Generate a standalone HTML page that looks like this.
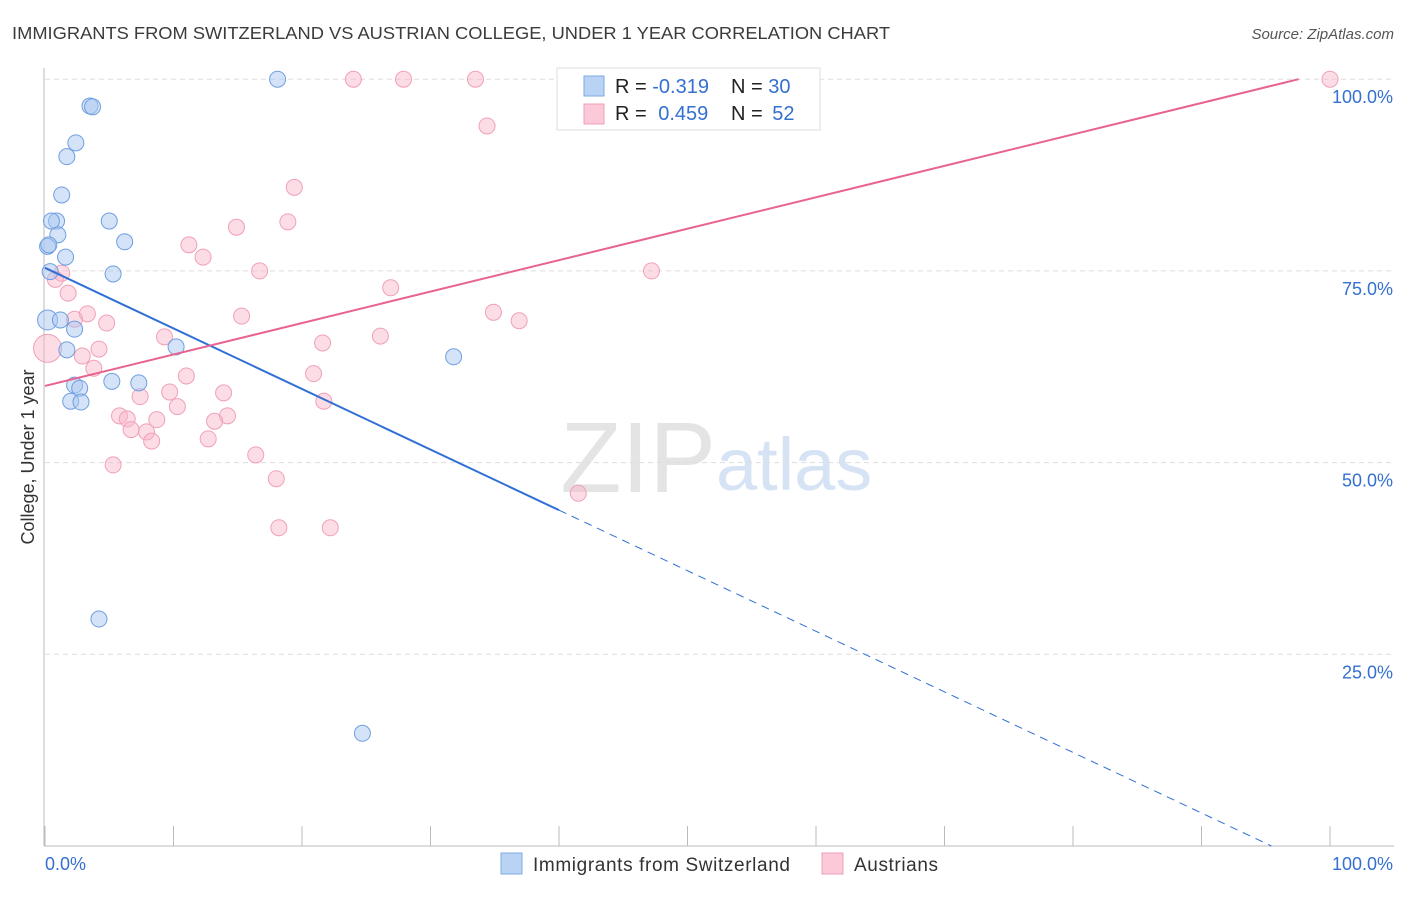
<!DOCTYPE html>
<html><head><meta charset="utf-8"><style>
body{margin:0;background:#fff;font-family:"Liberation Sans",sans-serif;}
svg text{font-family:"Liberation Sans",sans-serif;}
</style></head><body>
<svg id="chart" width="1406" height="892">
<text x="12" y="39" font-size="17.5" fill="#3b3b3b" textLength="878" lengthAdjust="spacingAndGlyphs">IMMIGRANTS FROM SWITZERLAND VS AUSTRIAN COLLEGE, UNDER 1 YEAR CORRELATION CHART</text>
<text x="1394" y="39" font-size="15" fill="#555" text-anchor="end" font-style="italic">Source: ZipAtlas.com</text>
<text x="716" y="492" font-size="100" fill="#e4e4e4" text-anchor="end" font-family="Liberation Serif">ZIP</text>
<text x="716" y="490" font-size="74" fill="#d6e3f5">atlas</text>
<g id="grid"></g><g id="axes"></g><g id="pts"></g><g id="lines"></g>
<text transform="translate(34,457) rotate(-90)" font-size="18" fill="#333" text-anchor="middle">College, Under 1 year</text>
<g>
<rect x="557" y="68" width="263" height="62" fill="#fff" stroke="#ddd"/>
<rect x="584" y="76" width="20" height="20" fill="#b9d3f5" stroke="#7fa9e3"/>
<rect x="584" y="104" width="20" height="20" fill="#fcc9d8" stroke="#f0a0b8"/>
<text x="615" y="93" font-size="20" fill="#222">R = <tspan fill="#3470d0">-0.319</tspan></text>
<text x="731" y="93" font-size="20" fill="#222">N = <tspan fill="#3470d0">30</tspan></text>
<text x="615" y="120" font-size="20" fill="#222">R = <tspan fill="#3470d0" dx="6">0.459</tspan></text>
<text x="731" y="120" font-size="20" fill="#222">N = <tspan fill="#3470d0" dx="4">52</tspan></text>
</g>
<g>
<rect x="501" y="853" width="21" height="21" fill="#b9d3f5" stroke="#7fa9e3"/>
<text x="533" y="871" font-size="19" fill="#333" textLength="257">Immigrants from Switzerland</text>
<rect x="822" y="853" width="21" height="21" fill="#fcc9d8" stroke="#f0a0b8"/>
<text x="854" y="871" font-size="19" fill="#333" textLength="84">Austrians</text>
</g>
</svg>
<script>
const blueX=[0.2,0.9,0.5,1.3,1.7,2.4,3.5,3.7,18.1,5.0,6.2,1.0,0.2,1.6,5.3,0.4,1.2,2.3,1.7,10.2,5.2,7.3,2.3,2.7,2.0,2.8,31.8,4.2,24.7,0.3];
const blueY=[68.6,81.5,81.5,84.9,89.9,91.7,96.5,96.4,100,81.5,78.8,79.7,78.2,76.8,74.6,74.9,68.6,67.4,64.7,65.1,60.6,60.4,60.1,59.7,58.0,57.9,63.8,29.6,14.7,78.4];
const pinkX=[24.0,27.9,33.5,100,34.4,52.4,19.4,18.9,14.9,11.2,12.3,16.7,47.2,1.3,0.8,1.8,26.9,34.9,36.9,15.3,3.3,2.3,4.8,9.3,26.1,21.6,0.2,4.2,2.9,3.8,20.9,11.0,9.7,13.9,7.4,21.7,10.3,5.8,6.4,14.2,13.2,8.7,6.7,7.9,8.3,12.7,16.4,5.3,18.0,41.5,18.2,22.2];
const pinkY=[100,100,100,100,93.9,96.4,85.9,81.4,80.7,78.4,76.8,75.0,75.0,74.7,73.9,72.1,72.8,69.6,68.5,69.1,69.4,68.7,68.2,66.4,66.5,65.6,64.9,64.8,63.9,62.3,61.6,61.3,59.2,59.1,58.6,58.0,57.3,56.1,55.7,56.1,55.4,55.6,54.3,54.0,52.8,53.1,51.0,49.7,47.9,46.0,41.5,41.5];
const yTicks=[25,50,75,100];
const yTickLabels=["25.0%","50.0%","75.0%","100.0%"];
const xTicks=[0,10,20,30,40,50,60,70,80,90,100];
const blueLine=[75.4,-0.79];
const pinkLine=[60.0,0.41];
const sx=v=>45+v*12.85, sy=v=>846-v*7.668;
const NS="http://www.w3.org/2000/svg";
function mk(p,t,a){const e=document.createElementNS(NS,t);for(const k in a)e.setAttribute(k,a[k]);document.getElementById(p).appendChild(e);return e;}
yTicks.forEach((t,i)=>{
 const l=mk('grid','line',{x1:45,x2:1394,y1:sy(t),y2:sy(t),stroke:'#ddd','stroke-dasharray':'5,4'});
 
 
 const tx=mk('axes','text',{x:1393,y:sy(t)+24,'font-size':18,fill:'#3470d0','text-anchor':'end'});
 tx.textContent=yTickLabels[i];
 
 
});
mk('axes','line',{x1:44,x2:44,y1:68,y2:846,stroke:'#bbb'});
mk('axes','line',{x1:44,x2:1394,y1:846,y2:846,stroke:'#bbb'});
xTicks.forEach(t=>{const l=mk('axes','line',{x1:sx(t),x2:sx(t),y1:826,y2:846,stroke:'#bbb'});
 
 });
let a=mk('axes','text',{x:45,y:870,'font-size':18,fill:'#3470d0'});a.textContent="0.0%";


a=mk('axes','text',{x:1393,y:870,'font-size':18,fill:'#3470d0','text-anchor':'end'});a.textContent="100.0%";


pinkX.forEach((x,i)=>{const c=mk('pts','circle',{cx:sx(x),cy:sy(pinkY[i]),r:i==26?14:8,fill:'rgba(248,180,200,0.45)',stroke:'#f0a0b8','stroke-width':1});
 
 });
blueX.forEach((x,i)=>{const c=mk('pts','circle',{cx:sx(x),cy:sy(blueY[i]),r:i==0?10:8,fill:'rgba(170,200,240,0.5)',stroke:'#6f9fe0','stroke-width':1});
 
 });
const bl=x=>blueLine[0]+blueLine[1]*x, pl=x=>pinkLine[0]+pinkLine[1]*x;
let l=mk('lines','line',{x1:sx(0),y1:sy(bl(0)),x2:sx(40),y2:sy(bl(40)),stroke:'#2f6fd6','stroke-width':2});


const xe=(0-blueLine[0])/blueLine[1];
l=mk('lines','line',{x1:sx(40),y1:sy(bl(40)),x2:sx(xe),y2:sy(0),stroke:'#2f6fd6','stroke-width':1,'stroke-dasharray':'8,6'});


const xp=(100-pinkLine[0])/pinkLine[1];
l=mk('lines','line',{x1:sx(0),y1:sy(pl(0)),x2:sx(xp),y2:sy(100),stroke:'#e8638f','stroke-width':2});


</script>
</body></html>
